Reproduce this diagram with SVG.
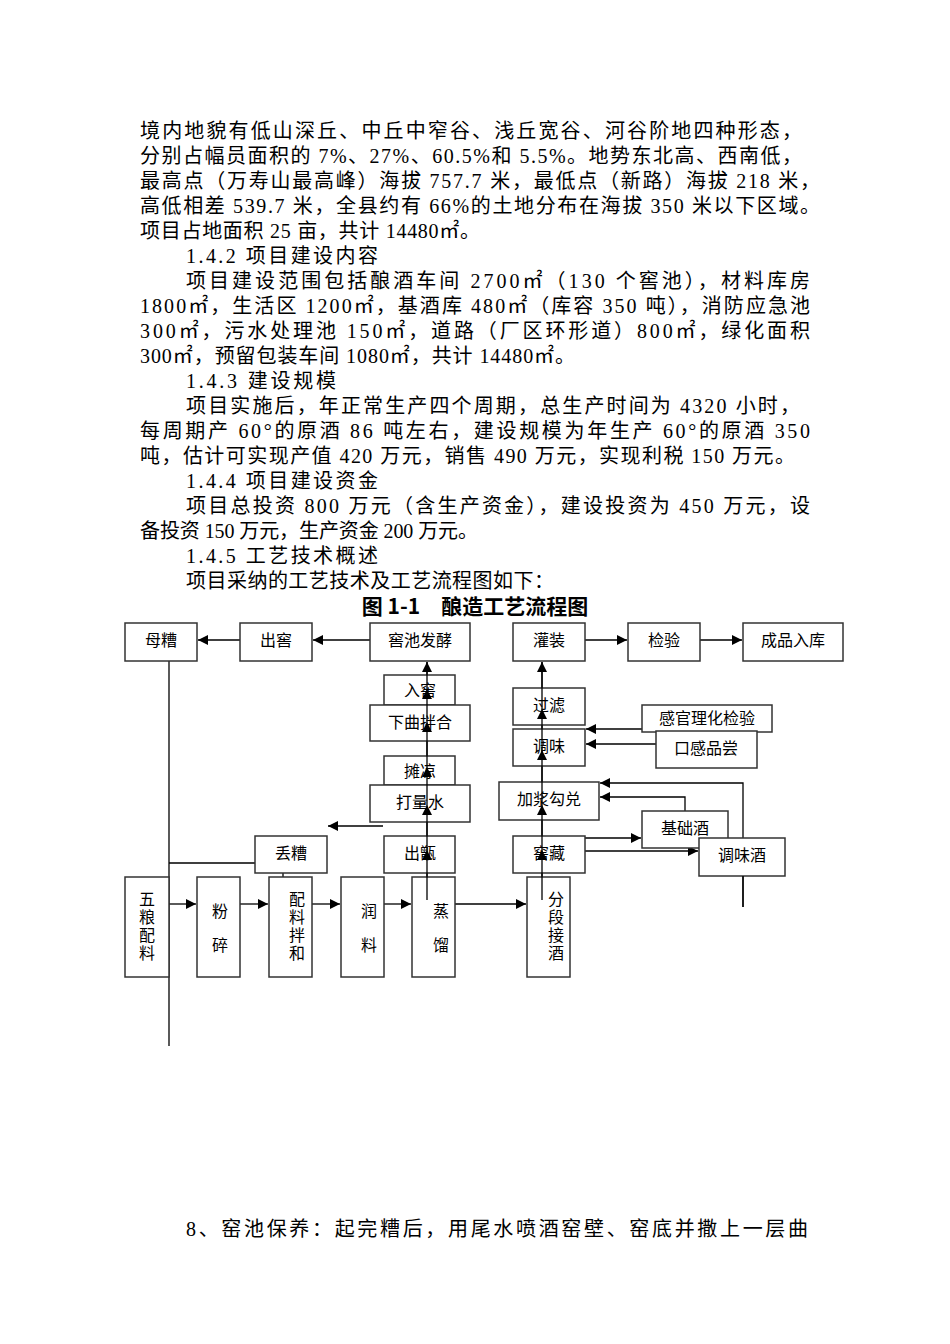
<svg xmlns="http://www.w3.org/2000/svg" width="950" height="1344" viewBox="0 0 950 1344">
<defs>
<marker id="a" viewBox="0 0 10 10" refX="10" refY="5" markerWidth="10" markerHeight="10" markerUnits="userSpaceOnUse" orient="auto"><path d="M0,0L10,5L0,10z" fill="#000"/></marker>
<style>
.t{font-family:"Liberation Serif","Noto Sans CJK SC",serif;font-size:20px;fill:#000}
.n rect{fill:#fff;stroke:#333;stroke-width:1.5}
.n text{font-family:"Liberation Serif","Noto Sans CJK SC",serif;font-size:16px;fill:#000;text-anchor:middle}
.c line,.c polyline{stroke:#000;stroke-width:1.3;fill:none}
.ar{marker-end:url(#a)}
</style>
</defs>
<rect width="950" height="1344" fill="#fff"/>
<g id="body">
<text class="t" x="140" y="138" textLength="662" lengthAdjust="spacing">境内地貌有低山深丘、中丘中窄谷、浅丘宽谷、河谷阶地四种形态，</text>
<text class="t" x="140" y="163" textLength="662" lengthAdjust="spacing">分别占幅员面积的 7%、27%、60.5%和 5.5%。地势东北高、西南低，</text>
<text class="t" x="140" y="188" textLength="680" lengthAdjust="spacing">最高点（万寿山最高峰）海拔 757.7 米，最低点（新路）海拔 218 米，</text>
<text class="t" x="140" y="213" textLength="680" lengthAdjust="spacing">高低相差 539.7 米，全县约有 66%的土地分布在海拔 350 米以下区域。</text>
<text class="t" x="140" y="238" textLength="340" lengthAdjust="spacing">项目占地面积 25 亩，共计 14480㎡。</text>
<text class="t" x="186" y="263" textLength="192" lengthAdjust="spacing">1.4.2 项目建设内容</text>
<text class="t" x="186" y="288" textLength="624" lengthAdjust="spacing">项目建设范围包括酿酒车间 2700㎡（130 个窖池），材料库房</text>
<text class="t" x="140" y="313" textLength="670" lengthAdjust="spacing">1800㎡，生活区 1200㎡，基酒库 480㎡（库容 350 吨），消防应急池</text>
<text class="t" x="140" y="338" textLength="670" lengthAdjust="spacing">300㎡，污水处理池 150㎡，道路（厂区环形道）800㎡，绿化面积</text>
<text class="t" x="140" y="363" textLength="435" lengthAdjust="spacing">300㎡，预留包装车间 1080㎡，共计 14480㎡。</text>
<text class="t" x="186" y="388" textLength="150" lengthAdjust="spacing">1.4.3 建设规模</text>
<text class="t" x="186" y="413" textLength="614" lengthAdjust="spacing">项目实施后，年正常生产四个周期，总生产时间为 4320 小时，</text>
<text class="t" x="140" y="438" textLength="670" lengthAdjust="spacing">每周期产 60°的原酒 86 吨左右，建设规模为年生产 60°的原酒 350</text>
<text class="t" x="140" y="463" textLength="655" lengthAdjust="spacing">吨，估计可实现产值 420 万元，销售 490 万元，实现利税 150 万元。</text>
<text class="t" x="186" y="488" textLength="192" lengthAdjust="spacing">1.4.4 项目建设资金</text>
<text class="t" x="186" y="513" textLength="624" lengthAdjust="spacing">项目总投资 800 万元（含生产资金），建设投资为 450 万元，设</text>
<text class="t" x="140" y="538" textLength="338" lengthAdjust="spacing">备投资 150 万元，生产资金 200 万元。</text>
<text class="t" x="186" y="563" textLength="192" lengthAdjust="spacing">1.4.5 工艺技术概述</text>
<text class="t" x="186" y="588" textLength="368" lengthAdjust="spacing">项目采纳的工艺技术及工艺流程图如下：</text>
<text x="475" y="614" text-anchor="middle" style="font-family:'Noto Sans CJK SC',sans-serif;font-size:21px;font-weight:bold">图 1-1　酿造工艺流程图</text>
<text class="t" x="186" y="1236" textLength="622" lengthAdjust="spacing">8、窑池保养：起完糟后，用尾水喷酒窑壁、窑底并撒上一层曲</text>
</g>
<g class="c">
<line class="ar" x1="240" y1="640" x2="198" y2="640"/>
<line class="ar" x1="370" y1="640" x2="313" y2="640"/>
<line class="ar" x1="585" y1="640" x2="627" y2="640"/>
<line class="ar" x1="700" y1="640" x2="742" y2="640"/>
<line x1="169" y1="661" x2="169" y2="1046"/>
<polyline class="ar" points="169,863 283,863 283,899"/>
<line class="ar" x1="169" y1="904" x2="196" y2="904"/>
<line class="ar" x1="240" y1="904" x2="268" y2="904"/>
<line class="ar" x1="312" y1="904" x2="340" y2="904"/>
<line class="ar" x1="384" y1="904" x2="411" y2="904"/>
<line class="ar" x1="455" y1="904" x2="526" y2="904"/>
<line class="ar" x1="383" y1="826" x2="328" y2="826"/>
<line x1="427" y1="900" x2="427" y2="662"/>
<line x1="542" y1="900" x2="542" y2="662"/>
<line class="ar" x1="642" y1="729" x2="586" y2="729"/>
<line class="ar" x1="656" y1="744" x2="586" y2="744"/>
<polyline class="ar" points="743,907 743,783 600,783"/>
<polyline class="ar" points="685,811 685,797 600,797"/>
<line class="ar" x1="585" y1="838" x2="641" y2="838"/>
<line class="ar" x1="585" y1="851" x2="698" y2="851"/>
</g>
<g id="n-muzao" class="n"><rect x="125" y="623" width="72" height="38"/><text x="161" y="646">母糟</text></g>
<g id="n-chujiao" class="n"><rect x="240" y="623" width="72" height="38"/><text x="276" y="646">出窖</text></g>
<g id="n-fajiao" class="n"><rect x="370" y="623" width="100" height="38"/><text x="420" y="646">窖池发酵</text></g>
<g id="n-rujiao" class="n"><rect x="384" y="675" width="71" height="30"/><text x="420" y="696">入窖</text></g>
<g id="n-xiaqu" class="n"><rect x="370" y="705" width="100" height="36"/><text x="420" y="728">下曲拌合</text></g>
<g id="n-tanliang" class="n"><rect x="384" y="756" width="71" height="29"/><text x="420" y="777">摊凉</text></g>
<g id="n-daliangshui" class="n"><rect x="370" y="785" width="100" height="37"/><text x="420" y="808">打量水</text></g>
<g id="n-diuzao" class="n"><rect x="255" y="836" width="72" height="37"/><text x="291" y="859">丢糟</text></g>
<g id="n-chuzeng" class="n"><rect x="384" y="836" width="71" height="37"/><text x="420" y="859">出甑</text></g>
<g id="n-wuliang" class="n"><rect x="125" y="877" width="44" height="100"/><text x="147" y="905">五</text><text x="147" y="923">粮</text><text x="147" y="941">配</text><text x="147" y="959">料</text></g>
<g id="n-fensui" class="n"><rect x="197" y="877" width="43" height="100"/><text x="220" y="917">粉</text><text x="220" y="951">碎</text></g>
<g id="n-peiliao" class="n"><rect x="269" y="877" width="43" height="100"/><text x="297" y="905">配</text><text x="297" y="923">料</text><text x="297" y="941">拌</text><text x="297" y="959">和</text></g>
<g id="n-runliao" class="n"><rect x="341" y="877" width="43" height="100"/><text x="369" y="917">润</text><text x="369" y="951">料</text></g>
<g id="n-zhengliu" class="n"><rect x="412" y="877" width="43" height="100"/><text x="441" y="917">蒸</text><text x="441" y="951">馏</text></g>
<g id="n-fenduan" class="n"><rect x="527" y="877" width="43" height="100"/><text x="556" y="905">分</text><text x="556" y="923">段</text><text x="556" y="941">接</text><text x="556" y="959">酒</text></g>
<g id="n-guanzhuang" class="n"><rect x="513" y="623" width="72" height="38"/><text x="549" y="646">灌装</text></g>
<g id="n-jianyan" class="n"><rect x="628" y="623" width="72" height="38"/><text x="664" y="646">检验</text></g>
<g id="n-chengpin" class="n"><rect x="743" y="623" width="100" height="38"/><text x="793" y="646">成品入库</text></g>
<g id="n-guolv" class="n"><rect x="513" y="688" width="72" height="37"/><text x="549" y="711">过滤</text></g>
<g id="n-tiaowei" class="n"><rect x="513" y="729" width="72" height="37"/><text x="549" y="752">调味</text></g>
<g id="n-ganguan" class="n"><rect x="642" y="705" width="130" height="27"/><text x="707" y="724">感官理化检验</text></g>
<g id="n-kougan" class="n"><rect x="656" y="731" width="101" height="37"/><text x="706" y="754">口感品尝</text></g>
<g id="n-jiajiang" class="n"><rect x="499" y="782" width="100" height="38"/><text x="549" y="805">加浆勾兑</text></g>
<g id="n-jichu" class="n"><rect x="642" y="811" width="86" height="37"/><text x="685" y="834">基础酒</text></g>
<g id="n-tiaoweijiu" class="n"><rect x="699" y="838" width="86" height="38"/><text x="742" y="861">调味酒</text></g>
<g id="n-jiaocang" class="n"><rect x="513" y="836" width="72" height="37"/><text x="549" y="859">窖藏</text></g>
<g class="c">
<line x1="743" y1="876" x2="743" y2="907"/>
<line class="ar" x1="427" y1="900" x2="427" y2="850"/>
<line class="ar" x1="427" y1="850" x2="427" y2="805"/>
<line class="ar" x1="427" y1="805" x2="427" y2="767"/>
<line class="ar" x1="427" y1="767" x2="427" y2="722"/>
<line class="ar" x1="427" y1="722" x2="427" y2="689"/>
<line class="ar" x1="427" y1="689" x2="427" y2="662"/>
<line class="ar" x1="542" y1="900" x2="542" y2="850"/>
<line class="ar" x1="542" y1="850" x2="542" y2="805"/>
<line class="ar" x1="542" y1="805" x2="542" y2="750"/>
<line class="ar" x1="542" y1="750" x2="542" y2="709"/>
<line class="ar" x1="542" y1="709" x2="542" y2="662"/>
</g>
</svg>
